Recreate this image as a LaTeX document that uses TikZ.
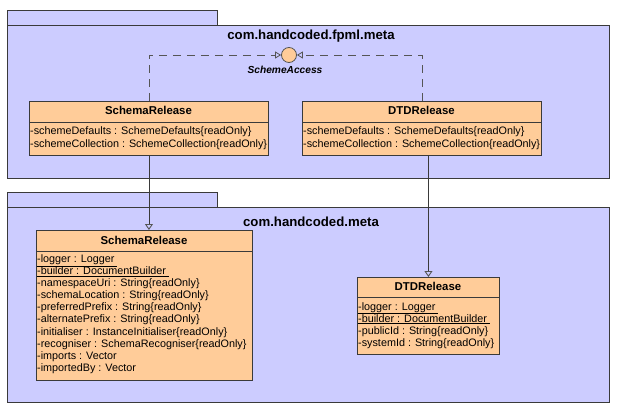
\documentclass[tikz,border=0pt]{standalone}
\usepackage{fontspec}
\setmainfont{Liberation Sans}
\usetikzlibrary{arrows.meta}
\definecolor{pkgfill}{HTML}{CCCCFF}
\definecolor{clsfill}{HTML}{FFCC99}
\definecolor{linec}{HTML}{3A3A3A}
\definecolor{arrc}{HTML}{555555}
\newcommand{\attrfont}{\fontsize{10.8}{12}\selectfont}
\newcommand{\clsfont}{\fontsize{11.4}{13}\selectfont\bfseries}
\newcommand{\pkgfont}{\fontsize{13.2}{15}\selectfont\bfseries}
\begin{document}
\begin{tikzpicture}[x=1pt,y=-1pt,
  pkgbox/.style={draw=linec, fill=pkgfill, line width=0.9pt, inner sep=0pt, anchor=north west},
  clsbox/.style={draw=linec, fill=clsfill, line width=0.9pt, inner sep=0pt, anchor=north west},
  divider/.style={draw=linec, line width=0.9pt},
  pkgtitle/.style={font=\pkgfont, inner sep=0pt, anchor=base},
  clstitle/.style={font=\clsfont, inner sep=0pt, anchor=base},
  attr/.style={font=\attrfont, inner sep=0pt, anchor=base west},
  iface/.style={circle, draw=arrc, fill=clsfill, line width=0.8pt, minimum size=15pt, inner sep=0pt},
  ifacelabel/.style={font=\fontsize{10.2}{12}\selectfont\bfseries\itshape, inner sep=0pt, anchor=base},
  realize/.style={draw=arrc, line width=0.8pt, dash pattern=on 8pt off 6pt, -{Triangle[open, length=6pt, width=7pt]}},
  generalize/.style={draw=linec, line width=0.9pt, -{Triangle[open, length=6pt, width=8pt, color=arrc]}}
]
\useasboundingbox (0,0) rectangle (625,412);

% package com.handcoded.fpml.meta
\node[pkgbox, minimum width=210pt, minimum height=15pt] (p1tab) at (7,10) {};
\node[pkgbox, minimum width=602pt, minimum height=153pt] (p1) at (7,25) {};
\node[pkgtitle] (p1t) at (311,40) {com.handcoded.fpml.meta};

% package com.handcoded.meta
\node[pkgbox, minimum width=210pt, minimum height=15pt] (p2tab) at (7,192) {};
\node[pkgbox, minimum width=602pt, minimum height=195pt] (p2) at (7,207) {};
\node[pkgtitle] (p2t) at (311,226.5) {com.handcoded.meta};

% interface
\node[iface] (sa) at (289,55) {};
\node[ifacelabel] (sal) at (285,73.5) {SchemeAccess};

% top SchemaRelease
\node[clsbox, minimum width=239pt, minimum height=54pt] (sr1) at (29,101) {};
\draw[divider] (29,122) -- (268,122);
\node[clstitle] (sr1t) at (148.5,114.5) {SchemaRelease};
\node[attr] (sr1a1) at (30,135) {-schemeDefaults : SchemeDefaults\{readOnly\}};
\node[attr] (sr1a2) at (30,147) {-schemeCollection : SchemeCollection\{readOnly\}};

% top DTDRelease
\node[clsbox, minimum width=239pt, minimum height=54pt] (dt1) at (302,101) {};
\draw[divider] (302,122) -- (541,122);
\node[clstitle] (dt1t) at (421.5,114.5) {DTDRelease};
\node[attr] (dt1a1) at (303,135) {-schemeDefaults : SchemeDefaults\{readOnly\}};
\node[attr] (dt1a2) at (303,147) {-schemeCollection : SchemeCollection\{readOnly\}};

% bottom SchemaRelease
\node[clsbox, minimum width=216pt, minimum height=150pt] (sr2) at (36,230) {};
\draw[divider] (36,251) -- (252,251);
\node[clstitle] (sr2t) at (144,244) {SchemaRelease};
\foreach \t [count=\i] in {
  {\underline{-logger : Logger\ }},
  {\underline{-builder : DocumentBuilder\ }},
  {-namespaceUri : String\{readOnly\}},
  {-schemaLocation : String\{readOnly\}},
  {-preferredPrefix : String\{readOnly\}},
  {-alternatePrefix : String\{readOnly\}},
  {-initialiser : InstanceInitialiser\{readOnly\}},
  {-recogniser : SchemaRecogniser\{readOnly\}},
  {-imports : Vector},
  {-importedBy : Vector}}
  \node[attr] (sr2a\i) at (37,{262.7+12.05*(\i-1)}) {\t};

% bottom DTDRelease
\node[clsbox, minimum width=142pt, minimum height=77pt] (dt2) at (357,277) {};
\draw[divider] (357,297) -- (499,297);
\node[clstitle] (dt2t) at (428,290) {DTDRelease};
\foreach \t [count=\i] in {
  {\underline{-logger : Logger\ }},
  {\underline{-builder : DocumentBuilder\ }},
  {-publicId : String\{readOnly\}},
  {-systemId : String\{readOnly\}}}
  \node[attr] (dt2a\i) at (358,{310+12*(\i-1)}) {\t};

% realizations
\draw[realize] (sr1.north) |- (sa.west);
\draw[realize] (dt1.north) |- (sa.east);

% generalizations
\draw[generalize] (sr1.south) -- (sr1.south |- sr2.north);
\draw[generalize] (dt1.south -| dt2.north) -- (dt2.north);
\end{tikzpicture}
\end{document}
